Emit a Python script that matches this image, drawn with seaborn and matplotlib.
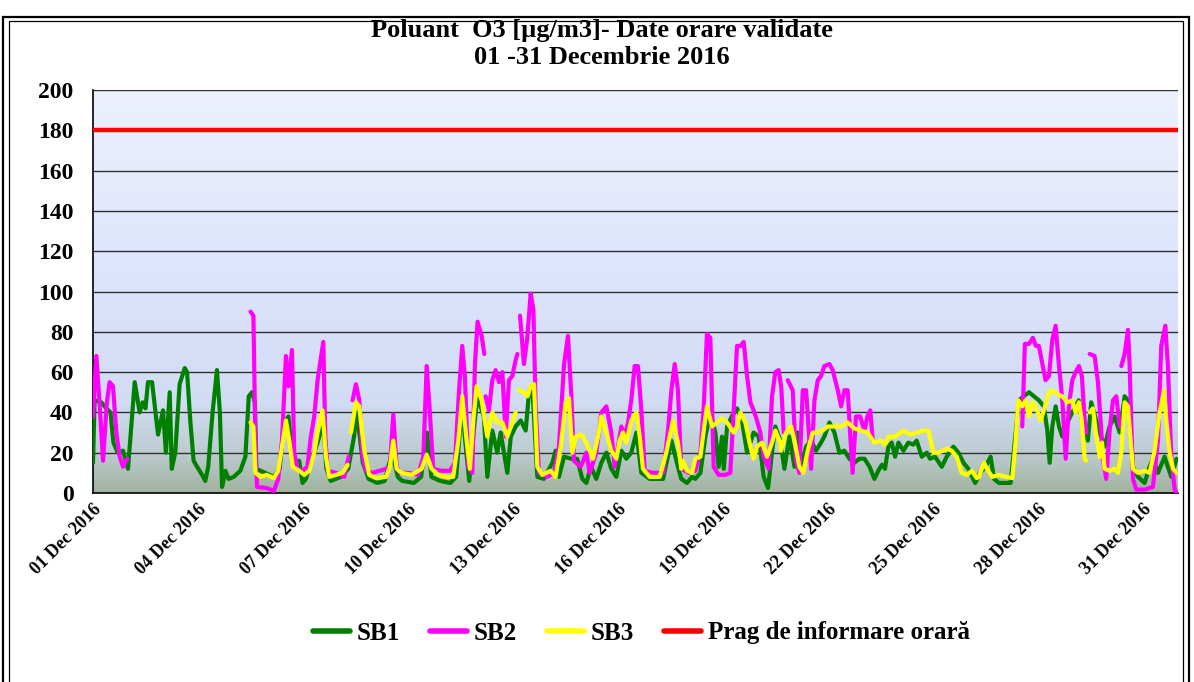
import numpy as np
import pandas as pd
import matplotlib
matplotlib.use("Agg")
import matplotlib.pyplot as plt
from matplotlib.colors import LinearSegmentedColormap
from matplotlib.lines import Line2D
from matplotlib.patches import Rectangle
import seaborn as sns

# ---------------- data (hour since 01 Dec 00:00, value µg/m3); None = gap ----------------
sb1_points = [(0,15),(1.1,46),(5.7,45),(9.1,42),(12,40),(14,25),(17,20),(20.6,21),(24,12),(28.6,55),(32,40),(34,45),(36,42),(37.7,55),(40.5,55),(44.6,29),(48,41),(50,20),(52.6,50),(54,12),(56.4,20),(59.4,54),(62.9,62),(64.5,60),(66.8,35),(69,16),(71.4,13),(74.8,9),(77,6),(79,13),(82,40),(85,61),(87,40),(88.5,3),(90.8,11),(93,7),(96.5,8),(101,11),(104.5,18),(106.8,48),(109,50),(111,45),(112,12),(118,10),(124,8),(128,12),(131,35),(134,38),(137,15),(141.4,16),(143.7,5),(146,7),(150.6,18),(154,25),(158,35),(160,12),(163,6),(170,8),(175,12),(179,28),(181,40),(185,15),(189,7),(195,5),(200,6),(205,20),(209,8),(212,6),(220,5),(225,8),(229,30),(232,8),(238,6),(245,5),(249,8),(253,43),(256,20),(258,6),(261,30),(263.5,48),(268,38),(270.4,8),(273.8,31),(277.2,20),(279.5,30),(284.1,10),(286.5,28),(289.8,33),(293.3,36),(296.7,31),(299,50),(301.2,53),(304.7,8),(309.2,7),(315,15),(317.2,21),(319.5,8),(323,18),(328,17),(332,17),(335.5,7),(338.3,5),(341.5,13),(345.1,7),(348.6,15),(352,20),(355.4,12),(358.9,8),(362.3,21),(365.7,17),(369.1,20),(372.6,30),(376,10),(381.7,7),(390.9,7),(396.6,26),(401.1,13),(403.4,7),(407.3,5),(410.8,8),(413,7),(416.5,10),(419.9,28),(423.3,40),(426.8,30),(429,13),(431.3,28),(432.5,12),(434.8,33),(438,38),(441.6,42),(445,36),(448.5,20),(453,30),(456.5,28),(459.9,8),(462.9,2.5),(465.6,20),(467.9,33),(471.3,26),(474.1,12),(477.5,28),(481,13),(483.2,30),(485.5,13),(489,23),(492.4,26),(495.8,21),(499.2,25),(501.5,28),(505,35),(508.4,30),(511.8,20),(515.2,21),(518.7,17),(522,15),(525.5,17),(529,17),(532.5,13),(535.8,7),(539.2,12),(541,14),(543.1,12),(545.4,23),(547.7,25),(550,18),(552.3,25),(555.7,21),(559.1,25),(562.5,24),(564.8,26),(568.3,18),(571.7,20),(574,17),(577.4,18),(582,13),(585.4,18),(590,23),(593.4,20),(596.9,15),(600.3,12),(604.9,5),(608.3,10),(612,13),(615.5,18),(617.8,7),(621.2,5),(625.8,5),(629.2,5),(631.5,21),(634.9,46),(641.8,50),(645.2,48),(648.6,46),(652,43),(654.4,31),(656,15),(657.8,33),(660.1,43),(662.4,33),(664.7,28),(668.1,35),(671.5,40),(676,46),(678.8,33),(682.2,26),(684.5,45),(688,36),(690.3,30),(693.7,23),(697.1,33),(700.5,38),(704,30),(707.4,48),(709.7,46),(713.1,13),(716.5,8),(721.1,5),(724.5,13),(726.8,17),(730.3,10),(734.8,18),(737,13),(739.4,8),(743,17)]

sb2_points = [(0,38),(2.3,68),(4,50),(6.9,16),(9.5,45),(11.4,55),(13.7,53),(16,30),(18.3,18),(20.6,13),(23.5,17),None,
(108,90),(110,88),(111.4,23),(112.5,3),(119,2.5),(124,1),(127,7),(129.6,26),(132.3,68),(134,53),(136.4,71),(138,20),(140.3,12),(143.7,11),(147,13),(149.4,28),(151.7,38),(154,56),(157.9,75),(159.3,28),(160.9,11),(166.6,10),(172.3,8),(175.3,18),None,
(178,46),(180.3,54),(182.6,46),(184.9,18),(187.2,11),(191.7,10),(196.3,11),(200.9,12),(203.6,13),(205.9,39),(208.2,13),(210.5,10),(216.2,10),(223,9),(226.5,18),(228.8,63),(231,40),(233.3,12),(239.1,11),(244.8,11),(248.2,15),(251,51),(253.2,73),(255,58),(257.3,13),(260.1,10),(261.9,64),(263.7,85),(266.5,78),(268.3,69),None,
(269.2,48),(271.5,41),(273.8,56),(276.1,61),(278.4,55),(280.7,60),(283,28),(285.2,56),(287.5,58),(289.8,66),(291,69),None,
(292.8,88),(295.5,64),(297.8,77),(300.1,99),(302,91),(303.5,43),(305.8,10),(311.5,8),(316.1,10),(319.5,23),(323,64),(325.7,78),(328,48),(329.8,16),(334.4,13),(336.7,17),(338.3,20),(340.6,10),(345.1,20),(348.6,40),(352,43),(355.4,30),(357.7,13),(360,23),(362.3,33),(364.6,28),(366.9,35),(369.1,46),(371.4,63),(373.7,63),(376,41),(378.3,11),(384,10),(390.9,10),(394.3,31),(396.6,51),(398.9,64),(401.1,51),(403.4,12),(408.5,10),(413,11),(416.5,20),(418.8,43),(421,79),(423.3,77),(425.6,13),(429,9),(433.6,9),(437,10),(439.3,41),(441.6,73),(444,73),(446.2,75),(448.5,58),(450.8,45),(453,41),(455.3,36),(457.6,30),(459.9,18),(463.3,12),(465.6,48),(467.9,60),(470.2,61),(472,52),(473.6,30),None,
(476.4,56),(479.8,51),(482.1,16),(484.4,10),(486.7,51),(489,51),(492.4,12),(494.7,46),(497,56),(499.2,58),(501.5,63),(505,64),(507.2,61),(510.7,51),(513,43),(515.2,51),(517.5,51),(519.3,28),(520.9,10),(523.2,38),(526,38),(529,31),(531,38),(533,41),(534.7,26),None,
(637.2,33),(639,74),(641.8,74),(644.5,77),(646.5,73),(648.6,73),(651,64),(653.2,56),(655.5,58),(657.8,76),(660.1,83),(662.4,63),(664.7,46),(667,17),(669.2,43),(671.5,56),(673.8,60),(676.1,63),(678.1,58),(680,36),(681.1,30),None,
(683.4,69),(686.8,68),(689.1,55),(691,35),(692.5,17),(694.8,7),(697.1,31),(699.4,46),(701.7,48),(704,33),None,
(705.1,63),(707.4,69),(709.7,81),(710.8,64),(713.1,7),(715.4,1.7),(721.1,1.7),(726.8,3),(730.3,26),(732.5,73),(735.3,83),(737.1,63),(739.4,18),(741.7,1.7),(743,0)]

sb3_points = [(108,35),(110,33),(111.4,10),(114.8,8),(119,9),(124,7.4),(127,11),(129.6,23),(132.3,36),(134.6,26),(137,13),(141.4,11),(144.9,9),(148.3,11),(151.7,20),(154,30),(157.4,41),(159.7,18),(162,8),(166.6,9),(171.2,10),(174.6,14),None,
(176.9,30),(180.3,45),(182.6,43),(186,21),(189.4,9),(194,7.4),(200.9,8),(203.6,13),(205.9,26),(208.2,12),(211.6,10),(218.5,9),(225.3,12),(228.8,19),(232.2,12),(236.8,9),(242.5,8),(247,8),(250.5,26),(253.2,48),(256.2,26),(258.5,12),(260.8,36),(263,53),(266.5,46),(268.8,35),(270.4,28),(273.8,40),(277.2,35),(280.7,35),(284.1,28),(287.5,35),(289.8,40),None,
(292.1,51),(295.5,50),(298,48),(300.1,53),(302.4,54),(304.7,13),(308.1,9),(313.8,11),(317.2,8),(320.7,23),(324.1,45),(326.4,47),(328.7,20),(331,28),(334.4,29),(336,28),(339.4,23),(342.9,17),(346.3,28),(348.6,38),(352,30),(355.4,21),(358.9,17),(361.1,26),(363.4,30),(365.7,25),(369.1,36),(372.6,40),(374.9,28),(377.1,12),(381.7,8),(388.6,8),(393.1,20),(397.7,36),(401.1,25),(403.4,12),(404.5,16),(407.3,11),(410.8,10),(413,17),(416.5,18),(418.8,31),(421,43),(424.5,33),(427.9,35),(431.3,37),(434.8,35),(439.3,30),(441.6,33),(443.9,40),(447.3,35),(450.8,23),(453,17),(455.3,23),(458.8,25),(462.2,18),(465.6,25),(467.9,31),(471.3,25),(471.8,21),(475.2,30),(478.7,33),(481,26),(484.4,13),(487,10),(490.1,21),(493.5,30),(497,30),(500.4,31),(503.8,33),(508.4,33),(513,33),(517.5,35),(522.1,32),(526.7,31),(531.2,30),(535.8,25),(540.4,26),(543.1,24),(545.4,28),(550,28),(555.7,31),(560.3,29),(564.8,30),(569.4,31),(572.8,31),(576.3,20),(580,20),(585.4,22),(588.8,21),(592.3,18),(595.7,10),(599,9),(602.6,11),(606,7.4),(607.5,8),(611,15),(613,12),(616.6,8),(621.2,9),(625.8,8),(630.4,7.4),(632.6,25),(634.5,46),(637.2,43),(639.5,46),(641.8,38),(644.1,45),(646.4,43),(649.8,36),(652,41),(655.5,50),(657.8,51),(661.2,49),(664.7,48),(668.1,45),(671.5,46),(673.8,40),(676.1,45),(678,36),(680,17),(681.1,16),None,
(683.4,40),(685.7,42),(688,28),(690.3,18),(691.9,25),(693.7,12),(697.1,11),(700.5,12),(702.8,10),(705.1,20),(707.4,45),(709.7,43),(711.5,26),(713.1,12),(716.5,10),(721.1,11),(724.5,10),(728,21),(731.4,40),(734.4,51),(736,36),(738.3,20),(740.6,12),(743,10)]

threshold = 180
series_names = ["SB1", "SB2", "SB3"]
threshold_label = "Prag de informare orară"
tick_days = [0, 3, 6, 9, 12, 15, 18, 21, 24, 27, 30]
tick_labels = ["01 Dec 2016", "04 Dec 2016", "07 Dec 2016", "10 Dec 2016", "13 Dec 2016",
               "16 Dec 2016", "19 Dec 2016", "22 Dec 2016", "25 Dec 2016", "28 Dec 2016", "31 Dec 2016"]
y_ticks = list(range(0, 201, 20))
title_lines = ["Poluant  O3 [µg/m3]- Date orare validate", "01 -31 Decembrie 2016"]


def to_frame(points, name):
    rows, seg = [], 0
    for p in points:
        if p is None:
            seg += 1
            continue
        rows.append({"day": p[0] / 24.0, "value": p[1], "seg": seg, "series": name})
    return pd.DataFrame(rows)


df = pd.concat([to_frame(sb1_points, "SB1"), to_frame(sb2_points, "SB2"),
                to_frame(sb3_points, "SB3")], ignore_index=True)

# ---------------- styling ----------------
sns.set_theme(style="white")
plt.rcParams["font.family"] = ["Liberation Serif", "DejaVu Serif"]
plt.rcParams["font.weight"] = "bold"
plt.rcParams["text.color"] = "black"
plt.rcParams["xtick.color"] = "black"
plt.rcParams["ytick.color"] = "black"
plt.rcParams["axes.labelcolor"] = "black"

colors = {"SB1": "#008000", "SB2": "#ff00ff", "SB3": "#ffff00"}

fig = plt.figure(figsize=(11.94, 6.82), dpi=100)
ax = fig.add_axes([93 / 1194, 1 - 493 / 682, (1178 - 93) / 1194, (493 - 90) / 682])

# background gradient of plot area
grad_cmap = LinearSegmentedColormap.from_list("bg", [
    (0.0, (0.63, 0.70, 0.62)),
    (0.10, (0.74, 0.80, 0.82)),
    (0.22, (0.82, 0.86, 0.95)),
    (0.50, (0.86, 0.89, 0.99)),
    (1.0, (0.93, 0.94, 0.99))])
grad = np.linspace(0, 1, 256).reshape(-1, 1)
ax.imshow(grad, cmap=grad_cmap, aspect="auto", origin="lower",
          extent=[0, 1, 0, 1], transform=ax.transAxes, zorder=0)

for name in series_names:
    sub = df[df["series"] == name]
    sns.lineplot(data=sub, x="day", y="value", units="seg", estimator=None,
                 color=colors[name], lw=3.0, ax=ax, zorder=3, legend=False)

ax.axhline(threshold, color="#ff0000", lw=3.2, zorder=4)

ax.set_xlim(0, 31)
ax.set_ylim(0, 200)
ax.set_yticks(y_ticks)
ax.set_yticklabels([str(v) for v in y_ticks], fontsize=17, fontweight="bold", color="black")
ax.set_xticks(tick_days)
ax.set_xticklabels(tick_labels, rotation=45, ha="right", rotation_mode="anchor",
                   fontsize=13, fontweight="bold", color="black")
ax.tick_params(axis="y", length=0, pad=14)
ax.tick_params(axis="x", length=0, pad=6)
ax.grid(axis="y", color="#303030", lw=1.0, zorder=1)
ax.grid(axis="x", visible=False)
ax.set_axisbelow(False)
for g in ax.get_ygridlines():
    g.set_zorder(1)
ax.set_xlabel("")
ax.set_ylabel("")
for s in ["top", "right"]:
    ax.spines[s].set_visible(False)
for s in ["left", "bottom"]:
    ax.spines[s].set_color("black")
    ax.spines[s].set_linewidth(1.2)

# titles
fig.text(0.504, 1 - 31 / 682, title_lines[0], ha="center", va="center",
         fontsize=19, fontweight="bold", color="black")
fig.text(0.504, 1 - 58 / 682, title_lines[1], ha="center", va="center",
         fontsize=19, fontweight="bold", color="black")

# legend
handles = [Line2D([0], [0], color=colors[n], lw=4) for n in series_names]
handles.append(Line2D([0], [0], color="#ff0000", lw=4))
leg = fig.legend(handles, series_names + [threshold_label], loc="center",
                 bbox_to_anchor=(0.537, 1 - 633 / 682), ncol=4, frameon=False,
                 prop={"family": "Liberation Serif", "weight": "bold", "size": 18},
                 handlelength=1.5, handletextpad=0.25, columnspacing=1.2)
for t in leg.get_texts():
    t.set_color("black")

# outer double frame
fig.add_artist(Rectangle((3 / 1194, -0.02), 1186 / 1194, 1 - 17 / 682 + 0.02,
                         transform=fig.transFigure, fill=False, lw=1.6, ec="black"))
fig.add_artist(Rectangle((9 / 1194, -0.02), 1174 / 1194, 1 - 21 / 682 + 0.02,
                         transform=fig.transFigure, fill=False, lw=0.9, ec="black"))

fig.savefig("out.png", dpi=100)
